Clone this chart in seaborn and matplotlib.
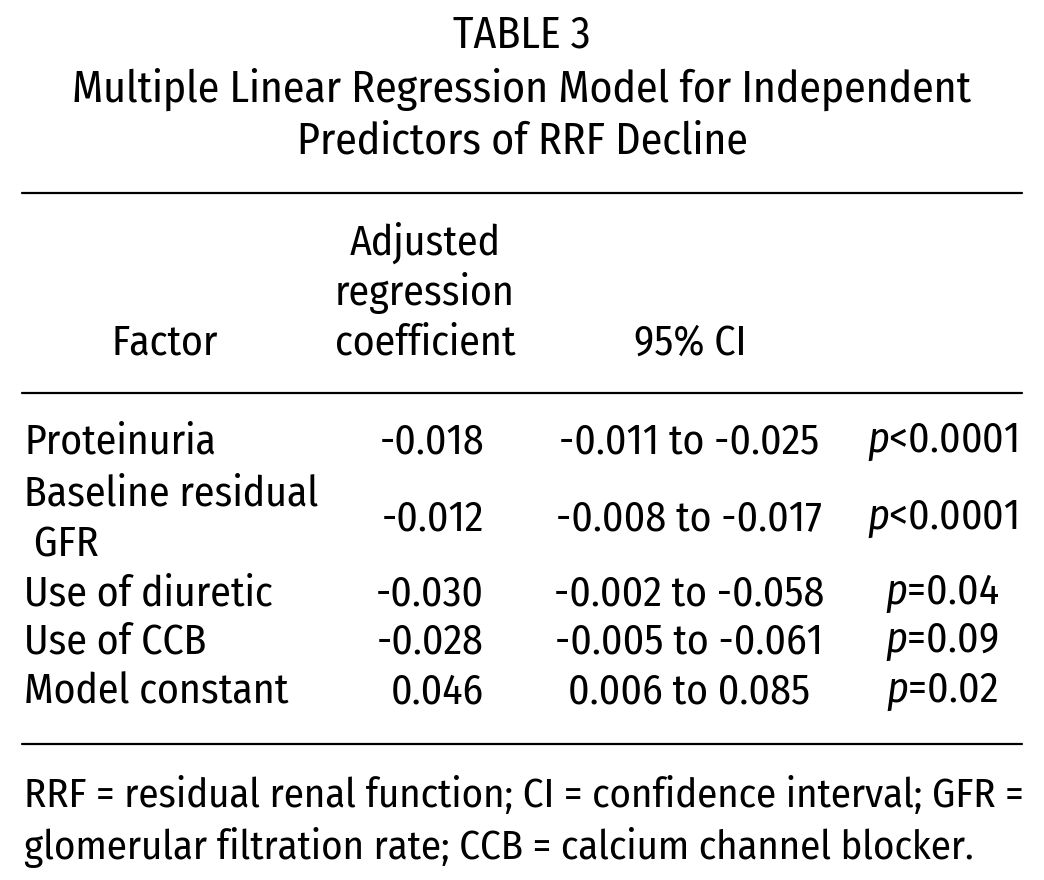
import seaborn as sns
import matplotlib.pyplot as plt
from matplotlib import font_manager

# table contents
title_lines = ["TABLE 3",
               "Multiple Linear Regression Model for Independent",
               "Predictors of RRF Decline"]
header_coef = ["Adjusted", "regression", "coefficient"]
factors = ["Proteinuria", "Baseline residual\n GFR", "Use of diuretic", "Use of CCB", "Model constant"]
coefs = [-0.018, -0.012, -0.030, -0.028, 0.046]
ci_low = [-0.011, -0.008, -0.002, -0.005, 0.006]
ci_high = [-0.025, -0.017, -0.058, -0.061, 0.085]
p_ops = ["<", "<", "=", "=", "="]
p_vals = ["0.0001", "0.0001", "0.04", "0.09", "0.02"]
footnote = ["RRF = residual renal function; CI = confidence interval; GFR =",
            "glomerular filtration rate; CCB = calcium channel blocker."]

sns.set_theme(style="white")
names = {f.name for f in font_manager.fontManager.ttflist}
fam = next((n for n in ["Fira Sans Condensed", "Open Sans Condensed", "Liberation Sans"] if n in names),
           "DejaVu Sans")
plt.rcParams["font.family"] = [fam, "DejaVu Sans"]
plt.rcParams["text.color"] = "black"
plt.rcParams["mathtext.fontset"] = "custom"
plt.rcParams["mathtext.rm"] = fam
plt.rcParams["mathtext.it"] = fam + ":italic"

fs = 30
fig = plt.figure(figsize=(10.44, 8.8), dpi=100)
ax = fig.add_axes([0, 0, 1, 1])
ax.set_xlim(0, 1044)
ax.set_ylim(880, 0)
ax.axis("off")


def fmt(v):
    return f"{v:.3f}"


def put(x, y, s, ha="left", size=fs):
    ax.text(x, y, s, ha=ha, va="center", fontsize=size, color="black")


# title
for i, line in enumerate(title_lines):
    put(522, 36 + i * 53, line, "center", 31.5)

# rules
for y in [193, 393, 744]:
    ax.plot([22, 1022], [y, y], color="black", lw=1.6)

# header
for i, line in enumerate(header_coef):
    put(425, 243 + i * 50, line, "center")
put(165, 343, "Factor", "center")
put(690, 343, "95% CI", "center")

# body rows
row_y = [442, 519, 594, 642, 692]
for i, y in enumerate(row_y):
    if "\n" in factors[i]:
        a, b = factors[i].split("\n")
        put(24, y - 25, a)
        put(24, y + 26, b)
    else:
        put(24, y, factors[i])
    put(484, y, fmt(coefs[i]), "right")
    put(689, y, f"{fmt(ci_low[i])} to {fmt(ci_high[i])}", "center")
    put(942, y, r"$\mathit{p}$" + p_ops[i] + p_vals[i], "center")

# footnote
for i, line in enumerate(footnote):
    put(24, 796 + i * 52, line, size=29.4)

fig.savefig("out.png", dpi=100)
